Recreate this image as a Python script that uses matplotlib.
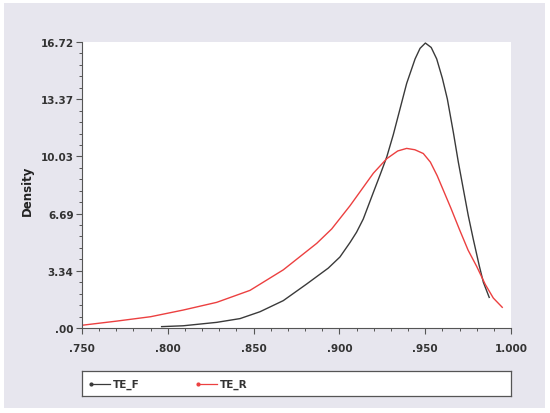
import matplotlib
matplotlib.use("Agg")
import matplotlib.pyplot as plt
from matplotlib.lines import Line2D
from matplotlib.ticker import MultipleLocator, FixedLocator, FuncFormatter

# ---- data ----
te_f_x = [0.7964, 0.8090, 0.8285, 0.8421, 0.8537, 0.8673, 0.8809, 0.8935, 0.9003,
          0.9062, 0.9100, 0.9139, 0.9198, 0.9237, 0.9276, 0.9314, 0.9353, 0.9392,
          0.9441, 0.9470, 0.9501, 0.9535, 0.9567, 0.9600, 0.9629, 0.9664, 0.9693,
          0.9722, 0.9751, 0.9780, 0.9815, 0.9839, 0.9873]
te_f_y = [0.08, 0.13, 0.33, 0.55, 0.95, 1.60, 2.57, 3.50, 4.15,
          5.00, 5.60, 6.37, 7.93, 8.95, 10.00, 11.30, 12.80, 14.30,
          15.73, 16.35, 16.66, 16.40, 15.73, 14.60, 13.39, 11.44, 9.70,
          8.13, 6.57, 5.20, 3.64, 2.67, 1.79]

te_r_x = [0.7500, 0.7700, 0.7900, 0.8090, 0.8285, 0.8479, 0.8673, 0.8868, 0.8955,
          0.9062, 0.9130, 0.9198, 0.9276, 0.9340, 0.9392, 0.9440, 0.9489, 0.9530,
          0.9570, 0.9610, 0.9650, 0.9700, 0.9750, 0.9800, 0.9850, 0.9897, 0.9949]
te_r_y = [0.16, 0.40, 0.66, 1.05, 1.50, 2.20, 3.40, 4.95, 5.79,
          7.15, 8.10, 9.05, 9.90, 10.35, 10.50, 10.42, 10.20, 9.70,
          8.90, 7.95, 7.00, 5.75, 4.55, 3.60, 2.55, 1.75, 1.21]

series_names = ["TE_F", "TE_R"]
series_colors = ["#3a3a3a", "#ec4040"]
y_ticks = [0.00, 3.34, 6.69, 10.03, 13.37, 16.72]
x_ticks = [0.750, 0.800, 0.850, 0.900, 0.950, 1.000]

W, H = 550, 414
fig = plt.figure(figsize=(5.5, 4.14), dpi=100)
fig.patch.set_facecolor("white")

# gray panel (background axes)
bg = fig.add_axes([4 / W, 1 - 409 / H, 541 / W, 405 / H], zorder=-5)
bg.set_facecolor("#e7e6ee")
bg.set_xticks([])
bg.set_yticks([])
for s in bg.spines.values():
    s.set_visible(False)

ax = fig.add_axes([82 / W, 1 - 329 / H, (511 - 82) / W, (329 - 43) / H], zorder=1)
ax.set_facecolor("white")
ax.plot(te_f_x, te_f_y, color=series_colors[0], lw=1.0)
ax.plot(te_r_x, te_r_y, color=series_colors[1], lw=1.0)

ax.set_xlim(0.75, 1.0)
ax.set_ylim(0, 16.72)
for s in ax.spines.values():
    s.set_visible(False)
for side in ("left", "bottom"):
    ax.spines[side].set_visible(True)
    ax.spines[side].set_color("#555555")
    ax.spines[side].set_linewidth(0.8)

ax.xaxis.set_major_locator(FixedLocator(x_ticks))
ax.yaxis.set_major_locator(FixedLocator(y_ticks))
ax.xaxis.set_minor_locator(MultipleLocator(0.01))
ax.yaxis.set_minor_locator(MultipleLocator(16.72 / 25))

def xfmt(v, p):
    s = f"{v:.3f}"
    return s[1:] if s.startswith("0") else s

def yfmt(v, p):
    s = f"{v:.2f}"
    return s[1:] if s.startswith("0") else s

ax.xaxis.set_major_formatter(FuncFormatter(xfmt))
ax.yaxis.set_major_formatter(FuncFormatter(yfmt))
ax.tick_params(axis="both", which="major", direction="out", length=4, width=0.8,
               color="#555555", labelsize=7.5, labelcolor="#333333")
ax.tick_params(axis="both", which="minor", direction="out", length=2.5, width=0.7,
               color="#555555")
ax.tick_params(axis="x", pad=7)
ax.tick_params(axis="y", pad=2)
for lab in ax.get_xticklabels() + ax.get_yticklabels():
    lab.set_fontweight("bold")

fig.text(27 / W, 1 - 191 / H, "Density", rotation=90, ha="center", va="center",
         fontsize=8.5, fontweight="bold", color="#222222")

# legend box
lax = fig.add_axes([82 / W, 1 - 397 / H, (511 - 82) / W, (397 - 372) / H], zorder=1)
lax.set_xlim(82, 511)
lax.set_ylim(0, 1)
lax.set_xticks([])
lax.set_yticks([])
lax.set_facecolor("white")
for s in lax.spines.values():
    s.set_color("#555555")
    s.set_linewidth(0.9)
for name, col, x0 in zip(series_names, series_colors, [91, 198]):
    lax.add_line(Line2D([x0, x0 + 19], [0.5, 0.5], color=col, lw=0.9))
    lax.plot([x0], [0.5], marker="o", ms=2, color=col)
    lax.text(x0 + 22, 0.5, name, ha="left", va="center", fontsize=7.5,
             fontweight="bold", color="#333333")

fig.savefig("out.png", dpi=100)
